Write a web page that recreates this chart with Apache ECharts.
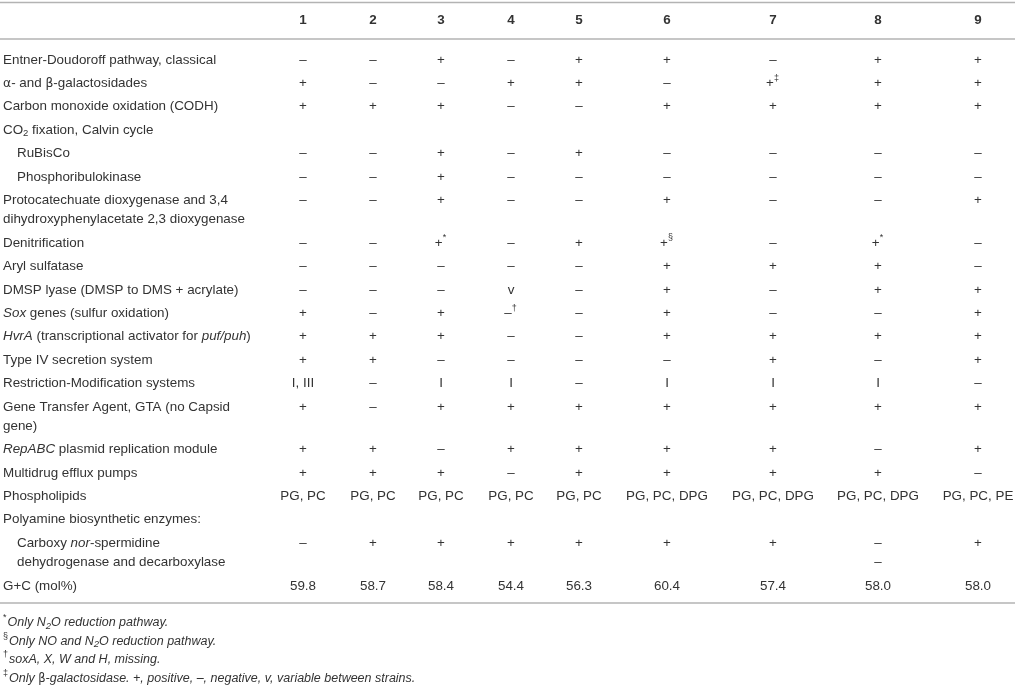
<!DOCTYPE html>
<html>
<head>
<meta charset="utf-8">
<script src="https://cdn.jsdelivr.net/npm/echarts@6/dist/echarts.min.js"></script>
<style>
  html, body { margin: 0; padding: 0; background: #fff; }
  #chart-container { width: 1015px; height: 685px; }
</style>
</head>
<body>
<div id="chart-container"></div>
<script>
// column heads (strains)
var strains = ['1', '2', '3', '4', '5', '6', '7', '8', '9'];

// row labels, {i|..} italic, {sub|..} subscript, {g|..} greek
var rowLabels = [
  'Entner-Doudoroff pathway, classical',
  '{g|α}- and {g|β}-galactosidades',
  'Carbon monoxide oxidation (CODH)',
  'CO{sub|2} fixation, Calvin cycle',
  'RuBisCo',
  'Phosphoribulokinase',
  'Protocatechuate dioxygenase and 3,4\ndihydroxyphenylacetate 2,3 dioxygenase',
  'Denitrification',
  'Aryl sulfatase',
  'DMSP lyase (DMSP to DMS + acrylate)',
  '{i|Sox} genes (sulfur oxidation)',
  '{i|HvrA} (transcriptional activator for {i|puf/puh})',
  'Type IV secretion system',
  'Restriction-Modification systems',
  'Gene Transfer Agent, GTA (no Capsid\ngene)',
  '{i|RepABC} plasmid replication module',
  'Multidrug efflux pumps',
  'Phospholipids',
  'Polyamine biosynthetic enzymes:',
  'Carboxy {i|nor}-spermidine\ndehydrogenase and decarboxylase',
  'G+C (mol%)'
];

var entnerDoudoroff     = ['–', '–', '+', '–', '+', '+', '–', '+', '+'];
var galactosidases      = ['+', '–', '–', '+', '+', '–', '+‡', '+', '+'];
var codh                = ['+', '+', '+', '–', '–', '+', '+', '+', '+'];
var calvinCycle         = null;
var rubisco             = ['–', '–', '+', '–', '+', '–', '–', '–', '–'];
var phosphoribulokinase = ['–', '–', '+', '–', '–', '–', '–', '–', '–'];
var dioxygenase         = ['–', '–', '+', '–', '–', '+', '–', '–', '+'];
var denitrification     = ['–', '–', '+*', '–', '+', '+§', '–', '+*', '–'];
var arylSulfatase       = ['–', '–', '–', '–', '–', '+', '+', '+', '–'];
var dmspLyase           = ['–', '–', '–', 'v', '–', '+', '–', '+', '+'];
var soxGenes            = ['+', '–', '+', '–†', '–', '+', '–', '–', '+'];
var hvrA                = ['+', '+', '+', '–', '–', '+', '+', '+', '+'];
var typeIVSecretion     = ['+', '+', '–', '–', '–', '–', '+', '–', '+'];
var restrictionMod      = ['I, III', '–', 'I', 'I', '–', 'I', 'I', 'I', '–'];
var geneTransferAgent   = ['+', '–', '+', '+', '+', '+', '+', '+', '+'];
var repABC              = ['+', '+', '–', '+', '+', '+', '+', '–', '+'];
var effluxPumps         = ['+', '+', '+', '–', '+', '+', '+', '+', '–'];
var phospholipids       = ['PG, PC', 'PG, PC', 'PG, PC', 'PG, PC', 'PG, PC', 'PG, PC, DPG', 'PG, PC, DPG', 'PG, PC, DPG', 'PG, PC, PE'];
var polyamineEnzymes    = null;
var norSpermidine       = ['–', '+', '+', '+', '+', '+', '+', '–\n–', '+'];
var gcContent           = ['59.8', '58.7', '58.4', '54.4', '56.3', '60.4', '57.4', '58.0', '58.0'];

var rowValues = [
  entnerDoudoroff, galactosidases, codh, calvinCycle, rubisco, phosphoribulokinase,
  dioxygenase, denitrification, arylSulfatase, dmspLyase, soxGenes, hvrA,
  typeIVSecretion, restrictionMod, geneTransferAgent, repABC, effluxPumps,
  phospholipids, polyamineEnzymes, norSpermidine, gcContent
];

var footnotes = [
  '{sup|*}Only N{sub|2}O reduction pathway.',
  '{sup|§}Only NO and N{sub|2}O reduction pathway.',
  '{sup|†}soxA, X, W and H, missing.',
  '{sup|‡}Only {g|β}-galactosidase. +, positive, –, negative, v, variable between strains.'
];

// ---- layout ----
var W = 1015, H = 685;
var FONT = '"Liberation Sans", Arial, Helvetica, sans-serif';
var TEXT = '#333';
var FS = 13.4, NOTE_FS = 12.5;
var colWidths = [268, 70, 70, 66, 74, 62, 114, 98, 112, 88];
var indentedRows = [4, 5, 19];
var labelX = 3, indent = 14;
var headerY = 20, firstRowY = 60, rowPitch = 23.4, lineH = 19.3;
var rules = [2.5, 39, 603];
var noteY = 622.5, notePitch = 18.7;

var colCenters = [];
(function () {
  var acc = colWidths[0];
  for (var c = 1; c < colWidths.length; c++) {
    colCenters.push(acc + colWidths[c] / 2);
    acc += colWidths[c];
  }
})();

var rowY = [];
(function () {
  var y = firstRowY;
  rowLabels.forEach(function (lab) {
    rowY.push(y);
    y += rowPitch + (lab.split('\n').length - 1) * lineH;
  });
})();

function rich(italic, size) {
  var st = italic ? 'italic' : 'normal';
  return {
    i: { fontFamily: FONT, fontSize: size, fontStyle: 'italic', lineHeight: lineH },
    g: { fontFamily: '"DejaVu Sans", sans-serif', fontSize: size - 1, fontStyle: 'normal', lineHeight: lineH },
    sub: { fontFamily: FONT, fontSize: 9.5, fontStyle: st, lineHeight: 9, verticalAlign: 'bottom', padding: [0, 0, 1, 0] },
    sup: { fontFamily: FONT, fontSize: 9, fontStyle: 'normal', lineHeight: 9, verticalAlign: 'top', padding: [0, 1, 0, 0] }
  };
}

function cellText(v) {
  var m = /^([+–])([*§‡†])$/.exec(v);
  return m ? m[1] + '{sup|' + m[2] + '}' : v;
}

// build text items
var labelItems = rowLabels.map(function (lab, r) {
  return { x: labelX + (indentedRows.indexOf(r) >= 0 ? indent : 0), y: rowY[r], text: lab, align: 'left' };
});
var headerItems = strains.map(function (s, c) {
  return { x: colCenters[c], y: headerY, text: s, align: 'center', bold: true };
});
var cellItems = [];
rowValues.forEach(function (vals, r) {
  if (!vals) return;
  vals.forEach(function (v, c) {
    cellItems.push({ x: colCenters[c], y: rowY[r], text: cellText(v), align: 'center' });
  });
});
var noteItems = footnotes.map(function (t, k) {
  return { x: labelX, y: noteY + k * notePitch, text: t, align: 'left', italic: true, size: NOTE_FS };
});

function textSeries(items) {
  return {
    type: 'custom',
    silent: true,
    clip: false,
    data: items.map(function (d) { return [d.x, d.y]; }),
    renderItem: function (params, api) {
      var d = items[params.dataIndex];
      var p = api.coord([api.value(0), api.value(1)]);
      var size = d.size || FS;
      return {
        type: 'text',
        x: p[0],
        y: p[1] - lineH / 2,
        style: {
          text: d.text,
          fontFamily: FONT,
          fontSize: size,
          fontWeight: d.bold ? 'bold' : 'normal',
          fontStyle: d.italic ? 'italic' : 'normal',
          fill: TEXT,
          lineHeight: lineH,
          align: d.align,
          verticalAlign: 'top',
          rich: rich(d.italic, size)
        }
      };
    }
  };
}

var ruleSeries = {
  type: 'custom',
  silent: true,
  clip: false,
  data: rules.map(function (y) { return [0, y]; }),
  renderItem: function (params, api) {
    var a = api.coord([0, api.value(1)]);
    var b = api.coord([W, api.value(1)]);
    return {
      type: 'line',
      shape: { x1: a[0], y1: a[1], x2: b[0], y2: b[1] },
      style: { stroke: '#b3b3b3', lineWidth: 1.5 }
    };
  }
};

var dom = document.getElementById('chart-container');
var myChart = echarts.init(dom, null, { renderer: 'canvas' });

var option = {
  animation: false,
  backgroundColor: '#fff',
  grid: { left: 0, right: 0, top: 0, bottom: 0 },
  xAxis: { type: 'value', min: 0, max: W, show: false },
  yAxis: { type: 'value', min: 0, max: H, inverse: true, show: false },
  series: [
    ruleSeries,
    textSeries(headerItems),
    textSeries(labelItems),
    textSeries(cellItems),
    textSeries(noteItems)
  ]
};

myChart.setOption(option);
window.addEventListener('resize', myChart.resize);
</script>
</body>
</html>
